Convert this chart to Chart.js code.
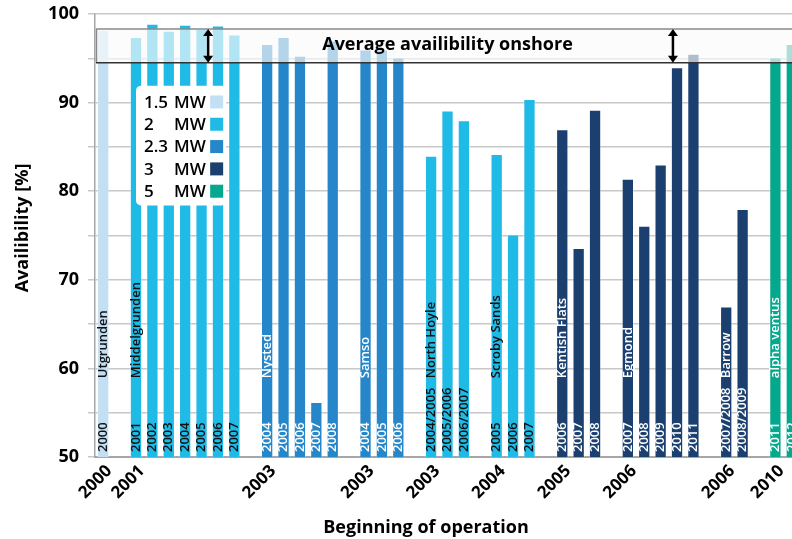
<!DOCTYPE html>
<html>
<head>
<meta charset="utf-8">
<script src="https://cdn.jsdelivr.net/npm/chart.js@4.4.1/dist/chart.umd.min.js"></script>
<style>
  html, body { margin: 0; padding: 0; overflow: hidden; background: #fff; }
</style>
</head>
<body>
<canvas id="ch_avail" width="800" height="539"></canvas>
<script>
/* offshore wind farm availability, one slot per bar (gaps = null) */

// year of first operation shown on the x axis (one per slot)
const axisYears = [
  '2000', '', '2001', '', '', '', '', '', '', '',
  '2003', '', '', '', '', '', '2003', '', '', '',
  '2003', '', '', '', '2004', '', '', '', '2005', '',
  '', '', '2006', '', '', '', '', '', '2006', '',
  '', '2010', ''
];

// availability in % per slot
const availability = [
  98.2, null, 97.4, 98.9, 98.1, 98.8, 98.3, 98.7, 97.7, null,
  96.6, 97.4, 95.3, 56.2, 97.0, null, 96.0, 96.0, 95.1, null,
  84.0, 89.1, 88.0, null, 84.2, 75.1, 90.4, null, 87.0, 73.6,
  89.2, null, 81.4, 76.1, 83.0, 94.0, 95.5, null, 67.0, 78.0,
  null, 95.1, 96.6
];

// turbine rating (MW) per slot
const ratings = [
  '1.5', null, '2', '2', '2', '2', '2', '2', '2', null,
  '2.3', '2.3', '2.3', '2.3', '2.3', null, '2.3', '2.3', '2.3', null,
  '2', '2', '2', null, '2', '2', '2', null, '3', '3',
  '3', null, '3', '3', '3', '3', '3', null, '3', '3',
  null, '5', '5'
];

// operating year written inside each bar
const barYears = [
  '2000', '', '2001', '2002', '2003', '2004', '2005', '2006', '2007', '',
  '2004', '2005', '2006', '2007', '2008', '', '2004', '2005', '2006', '',
  '2004/2005', '2005/2006', '2006/2007', '', '2005', '2006', '2007', '', '2006', '2007',
  '2008', '', '2007', '2008', '2009', '2010', '2011', '', '2007/2008', '2008/2009',
  '', '2011', '2012'
];

// wind farm name written on the first bar of each group
const farmNames = [
  'Utgrunden', '', 'Middelgrunden', '', '', '', '', '', '', '',
  'Nysted', '', '', '', '', '', 'Samso', '', '', '',
  'North Hoyle', '', '', '', 'Scroby Sands', '', '', '', 'Kentish Flats', '',
  '', '', 'Egmond', '', '', '', '', '', 'Barrow', '',
  '', 'alpha ventus', ''
];

const legendRatings = ['1.5', '2', '2.3', '3', '5'];

// onshore reference band (%)
const bandLow  = 94.5;
const bandHigh = 98.3;
const bandText = 'Average availibility onshore';
const arrowSlots = [6.4, 34.75];

/* ── styling ───────────────────────────────────────────────────── */
const FONT = '"Open Sans", "DejaVu Sans", sans-serif';
const COLORS = { '1.5': '#c3dff4', '2': '#1fbae6', '2.3': '#2587c9', '3': '#1b4070', '5': '#04a88c' };
const darkText = r => r === '1.5' || r === '2';

function slotPx(xs, s) {
  const w = xs.getPixelForValue(1) - xs.getPixelForValue(0);
  return xs.getPixelForValue(0) + s * w;
}

function arrow(ctx, x, y1, y2) {
  const h = 7, w = 5;
  ctx.strokeStyle = '#000'; ctx.fillStyle = '#000'; ctx.lineWidth = 2.5;
  ctx.beginPath(); ctx.moveTo(x, y1 + h - 1); ctx.lineTo(x, y2 - h + 1); ctx.stroke();
  ctx.beginPath(); ctx.moveTo(x, y1); ctx.lineTo(x - w, y1 + h); ctx.lineTo(x + w, y1 + h); ctx.closePath(); ctx.fill();
  ctx.beginPath(); ctx.moveTo(x, y2); ctx.lineTo(x - w, y2 - h); ctx.lineTo(x + w, y2 - h); ctx.closePath(); ctx.fill();
}

const overlay = {
  id: 'overlay',
  afterDatasetsDraw(chart) {
    const { ctx, chartArea: ca, scales: { x, y } } = chart;
    const bars = chart.getDatasetMeta(0).data;

    ctx.save();
    // labels inside bars
    ctx.font = '600 13px ' + FONT;
    ctx.textBaseline = 'middle';
    ctx.textAlign = 'left';
    bars.forEach((bar, i) => {
      if (availability[i] == null) return;
      ctx.fillStyle = darkText(ratings[i]) ? '#111' : '#fff';
      ctx.save();
      ctx.translate(bar.x, y.getPixelForValue(50) - 5);
      ctx.rotate(-Math.PI / 2);
      ctx.fillText(barYears[i], 0, 0);
      ctx.restore();
      if (farmNames[i]) {
        ctx.save();
        ctx.translate(bar.x, y.getPixelForValue(58.9));
        ctx.rotate(-Math.PI / 2);
        ctx.fillText(farmNames[i], 0, 0);
        ctx.restore();
      }
    });

    // onshore band
    const yT = y.getPixelForValue(bandHigh), yB = y.getPixelForValue(bandLow);
    ctx.fillStyle = 'rgba(250,250,250,0.67)';
    ctx.fillRect(ca.left + 1, yT, ca.right - ca.left, yB - yT);
    ctx.strokeStyle = '#8a8a8a'; ctx.lineWidth = 1.5;
    ctx.beginPath();
    ctx.moveTo(ca.right, yT); ctx.lineTo(ca.left + 1.5, yT); ctx.lineTo(ca.left + 1.5, yB);
    ctx.stroke();
    ctx.strokeStyle = '#333'; ctx.lineWidth = 1.3;
    ctx.beginPath(); ctx.moveTo(ca.left + 1, yB); ctx.lineTo(ca.right, yB); ctx.stroke();

    ctx.fillStyle = '#000';
    ctx.font = 'bold 18px ' + FONT;
    ctx.textAlign = 'center';
    ctx.fillText(bandText, slotPx(x, 21), (yT + yB) / 2 - 1);
    arrowSlots.forEach(s => arrow(ctx, slotPx(x, s), yT, yB));

    // rating legend box
    const lx0 = slotPx(x, 2), lx1 = slotPx(x, 7.5);
    const ly0 = y.getPixelForValue(91.9), ly1 = y.getPixelForValue(78.4);
    ctx.fillStyle = '#fff';
    ctx.beginPath();
    ctx.roundRect(lx0, ly0, lx1 - lx0, ly1 - ly0, 5);
    ctx.fill();
    ctx.font = '600 17px ' + FONT;
    ctx.textAlign = 'left';
    ctx.textBaseline = 'middle';
    const row = (ly1 - ly0 - 8) / legendRatings.length;
    legendRatings.forEach((r, k) => {
      const cy = ly0 + 5 + row * (k + 0.5);
      ctx.fillStyle = '#000';
      ctx.fillText(r, lx0 + 8, cy + 1);
      ctx.fillText('MW', lx0 + 38, cy + 1);
      ctx.fillStyle = COLORS[r];
      ctx.fillRect(lx1 - 16, cy - 6.5, 13, 13);
    });

    // axis titles
    ctx.fillStyle = '#000';
    ctx.font = 'bold 18px ' + FONT;
    ctx.textAlign = 'center';
    ctx.fillText('Beginning of operation', 426, 528);
    ctx.save();
    ctx.translate(23, 228);
    ctx.rotate(-Math.PI / 2);
    ctx.fillText('Availibility [%]', 0, 0);
    ctx.restore();
    ctx.restore();
  }
};

new Chart(document.getElementById('ch_avail').getContext('2d'), {
  type: 'bar',
  data: {
    labels: axisYears,
    datasets: [{
      label: 'Availability',
      data: availability,
      backgroundColor: ratings.map(r => COLORS[r] || 'transparent'),
      borderColor: 'rgba(255,255,255,0.35)',
      borderWidth: 1,
      barPercentage: 0.75,
      categoryPercentage: 1
    }]
  },
  options: {
    responsive: false,
    animation: false,
    devicePixelRatio: 1,
    layout: { padding: { top: 14, right: 0, bottom: 0, left: 0 } },
    plugins: { legend: { display: false }, tooltip: { enabled: false } },
    scales: {
      x: {
        offset: true,
        grid: { display: false, drawTicks: false },
        border: { color: '#a6a6a6', width: 2 },
        ticks: {
          autoSkip: false, maxRotation: 45, minRotation: 45, padding: 4, labelOffset: 6,
          color: '#000', font: { family: FONT, size: 17, weight: 'bold' }
        },
        afterFit(s) { s.height = 82; s.paddingLeft = 0; s.paddingRight = 0; }
      },
      y: {
        min: 50, max: 100,
        grid: { color: '#c8c8c8', lineWidth: 1.5, tickLength: 7 },
        border: { color: '#a6a6a6', width: 1.5 },
        ticks: {
          stepSize: 5, padding: 9, color: '#000',
          font: { family: FONT, size: 18, weight: 'bold' },
          callback: v => v % 10 === 0 ? v : ''
        },
        afterFit(s) { s.width = 95; s.paddingTop = 0; s.paddingBottom = 0; }
      }
    }
  },
  plugins: [overlay]
});
</script>
</body>
</html>
